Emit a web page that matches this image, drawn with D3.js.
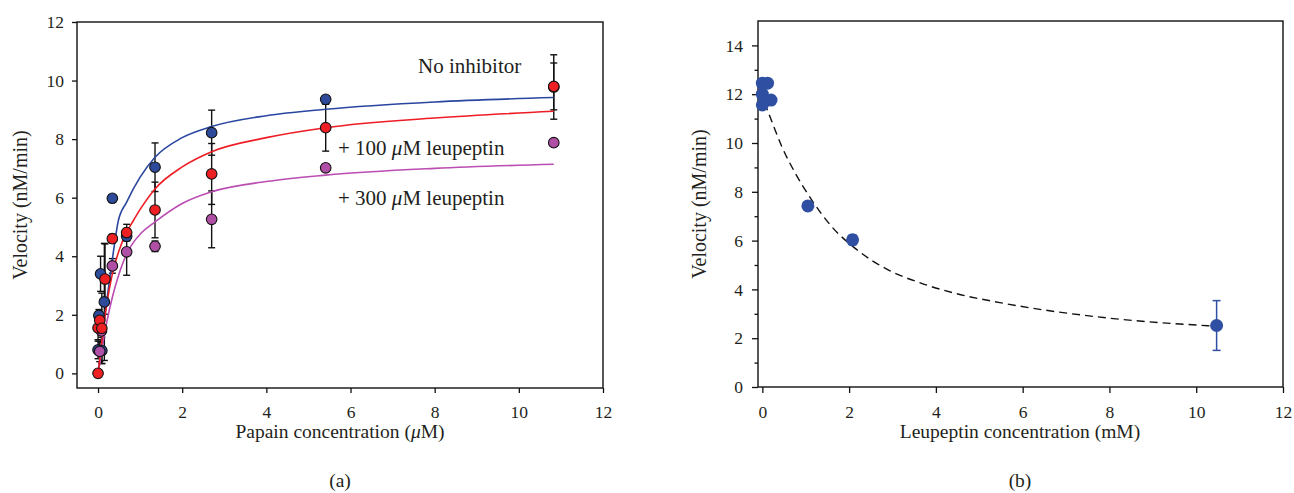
<!DOCTYPE html>
<html>
<head>
<meta charset="utf-8">
<script src="https://cdn.jsdelivr.net/npm/d3@7"></script>
<style>
  body { margin: 0; background: #fff; }
  svg text { font-family: "Liberation Serif", "DejaVu Serif", serif; fill: #231f20; }
</style>
</head>
<body>
<svg id="chart" width="1294" height="493"></svg>
<script>
// ---- Panel (a): velocity vs papain concentration, [x (µM), velocity, error] ----
const noInhibitor = [
  [0.00, 0.80, 0.30], [0.09, 0.78, 0.45], [0.02, 1.98, 0.20], [0.06, 3.40, 0.60],
  [0.15, 2.44, 2.00], [0.34, 5.98, 0.00], [0.68, 4.68, 0.15], [1.354, 7.04, 0.83],
  [2.70, 8.22, 0.77], [5.41, 9.36, 0.00], [10.83, 9.78, 1.10]
];
const leupeptin100 = [
  [0.00, 0.00, 0.00], [0.00, 1.55, 0.40], [0.04, 1.81, 0.30], [0.09, 1.54, 1.20],
  [0.166, 3.22, 1.20], [0.34, 4.60, 0.15], [0.68, 4.81, 0.28], [1.354, 5.58, 0.95],
  [2.70, 6.81, 1.04], [5.41, 8.39, 0.80], [10.83, 9.80, 0.80]
];
const leupeptin300 = [
  [0.04, 0.75, 0.35], [0.08, 1.45, 0.40], [0.34, 3.67, 0.25], [0.68, 4.15, 0.80],
  [1.354, 4.34, 0.18], [2.70, 5.26, 0.97], [5.41, 7.02, 0.00], [10.83, 7.88, 0.00]
];
// Fitted saturation curves, [x, velocity]
const noInhibitorFit = [
  [0, 0], [0.05, 0.5], [0.1, 1.2], [0.2, 2.4], [0.285, 3.3], [0.4, 4.5], [0.48, 5.2],
  [0.68, 5.85], [1.0, 6.7], [1.354, 7.38], [2.0, 8.05], [2.7, 8.43], [4.0, 8.8],
  [5.41, 9.02], [8.0, 9.27], [10.83, 9.42]
];
const leupeptin100Fit = [
  [0, 0], [0.05, 0.6], [0.1, 1.2], [0.2, 2.3], [0.34, 3.4], [0.5, 4.2], [0.68, 4.82],
  [0.8, 5.12], [1.0, 5.6], [1.354, 6.3], [2.0, 7.05], [2.7, 7.57], [4.0, 8.05],
  [5.41, 8.39], [8.0, 8.72], [10.83, 8.95]
];
const leupeptin300Fit = [
  [0, 0], [0.05, 0.4], [0.1, 0.9], [0.2, 1.7], [0.34, 2.6], [0.5, 3.4], [0.68, 4.08],
  [0.88, 4.55], [1.0, 4.75], [1.354, 5.17], [2.0, 5.8], [2.7, 6.2], [4.0, 6.55],
  [5.41, 6.77], [8.0, 7.0], [10.83, 7.14]
];
const ticksA = [0, 2, 4, 6, 8, 10, 12];

// ---- Panel (b): velocity vs leupeptin concentration ----
const leupeptinConc = [0, 0.12, 0, 0.2, 0, 1.05, 2.08, 10.47];
const velocityB = [12.45, 12.45, 12.0, 11.76, 11.56, 7.42, 6.03, 2.52];
const errorB = [0, 0, 0, 0, 0, 0, 0.2, 1.02];
const inhibitionFit = [
  [0.05, 11.65], [0.145, 11.22], [0.45, 9.85], [0.76, 8.76], [1.14, 7.66], [1.6, 6.57],
  [2.14, 5.68], [2.9, 4.8], [3.67, 4.25], [4.44, 3.84], [5.47, 3.46], [8.0, 2.82], [10.37, 2.5]
];
const ticksBX = [0, 2, 4, 6, 8, 10, 12];
const ticksBY = [0, 2, 4, 6, 8, 10, 12, 14];
const minorTicksBY = [1, 3, 5, 7, 9, 11, 13];

const svg = d3.select("#chart");
const ink = "#111";

function frame(g, x, y) {
  const [x0, x1] = x.range(), [y0, y1] = y.range();
  g.append("rect").attr("x", x0).attr("y", y1).attr("width", x1 - x0).attr("height", y0 - y1)
    .attr("fill", "none").attr("stroke", ink).attr("stroke-width", 1.4);
}
function styleAxis(sel, size) {
  sel.select(".domain").remove();
  sel.selectAll(".tick line").attr("stroke", ink).attr("stroke-width", 1.3);
  sel.selectAll(".tick text").attr("font-size", size).attr("fill", "#231f20")
    .attr("font-family", '"Liberation Serif", serif');
}

// ================= Panel (a) =================
const xa = d3.scaleLinear().domain([-0.5, 12]).range([77, 603]);
const ya = d3.scaleLinear().domain([-0.5, 12]).range([388, 22]);
const ga = svg.append("g");

ga.append("g").attr("transform", "translate(0,388)")
  .call(d3.axisBottom(xa).tickValues(ticksA).tickSize(5).tickPadding(13).tickSizeOuter(0))
  .call(s => styleAxis(s, 17.5));
ga.append("g").attr("transform", "translate(77,0)")
  .call(d3.axisLeft(ya).tickValues(ticksA).tickSize(5).tickPadding(8).tickSizeOuter(0))
  .call(s => styleAxis(s, 17.5));
frame(ga, xa, ya);

const seriesA = [
  { data: noInhibitor, fit: noInhibitorFit, fill: "#2e4b9b", line: "#2a46a0" },
  { data: leupeptin300, fit: leupeptin300Fit, fill: "#b04fa6", line: "#bb4db3" },
  { data: leupeptin100, fit: leupeptin100Fit, fill: "#ee2024", line: "#ee1c25" }
];

// error bars
seriesA.forEach(s => {
  const eb = ga.append("g").attr("stroke", ink).attr("stroke-width", 1.4);
  s.data.filter(d => d[2] > 0).forEach(d => {
    const cx = xa(d[0]), t = ya(d[1] + d[2]), b = ya(d[1] - d[2]);
    eb.append("line").attr("x1", cx).attr("x2", cx).attr("y1", t).attr("y2", b);
    eb.append("line").attr("x1", cx - 3.5).attr("x2", cx + 3.5).attr("y1", t).attr("y2", t);
    eb.append("line").attr("x1", cx - 3.5).attr("x2", cx + 3.5).attr("y1", b).attr("y2", b);
  });
});

// fitted curves
const lineA = d3.line().x(d => xa(d[0])).y(d => ya(d[1])).curve(d3.curveMonotoneX);
seriesA.forEach(s => {
  ga.append("path").datum(s.fit).attr("d", lineA)
    .attr("fill", "none").attr("stroke", s.line).attr("stroke-width", 1.6);
});

// points
seriesA.forEach(s => {
  ga.append("g").selectAll("circle").data(s.data).join("circle")
    .attr("cx", d => xa(d[0])).attr("cy", d => ya(d[1])).attr("r", 5.3)
    .attr("fill", s.fill).attr("stroke", ink).attr("stroke-width", 1.1);
});

// series labels
function muLabel(g, x, y, before, after, size) {
  const t = g.append("text").attr("x", x).attr("y", y).attr("font-size", size);
  t.append("tspan").text(before);
  t.append("tspan").attr("font-style", "italic").text("\u03bc");
  t.append("tspan").text(after);
  return t;
}
ga.append("text").attr("x", 418).attr("y", 73).attr("font-size", 21).text("No inhibitor");
muLabel(ga, 338, 155, "+ 100 ", "M leupeptin", 21);
muLabel(ga, 338, 205, "+ 300 ", "M leupeptin", 21);

muLabel(ga, 340, 438, "Papain concentration (", "M)", 19.5).attr("text-anchor", "middle");
ga.append("text").attr("x", 340).attr("y", 487).attr("text-anchor", "middle")
  .attr("font-size", 19.5).text("(a)");
ga.append("text").attr("transform", "translate(27,205) rotate(-90)")
  .attr("text-anchor", "middle").attr("font-size", 20).text("Velocity (nM/min)");

// ================= Panel (b) =================
const xb = d3.scaleLinear().domain([-0.1, 12]).range([758, 1283]);
const yb = d3.scaleLinear().domain([0, 15]).range([387, 21]);
const gb = svg.append("g");

gb.append("g").attr("transform", "translate(0,387)")
  .call(d3.axisBottom(xb).tickValues(ticksBX).tickSize(6).tickPadding(13).tickSizeOuter(0))
  .call(s => styleAxis(s, 17.5));
gb.append("g").attr("transform", "translate(758,0)")
  .call(d3.axisLeft(yb).tickValues(ticksBY).tickSize(6).tickPadding(9).tickSizeOuter(0))
  .call(s => styleAxis(s, 17.5));
gb.append("g").attr("transform", "translate(758,0)")
  .call(d3.axisLeft(yb).tickValues(minorTicksBY).tickSize(3.5).tickFormat(() => "").tickSizeOuter(0))
  .call(s => styleAxis(s, 17.5));
frame(gb, xb, yb);

const lineB = d3.line().x(d => xb(d[0])).y(d => yb(d[1])).curve(d3.curveMonotoneX);
gb.append("path").datum(inhibitionFit).attr("d", lineB)
  .attr("fill", "none").attr("stroke", ink).attr("stroke-width", 1.4)
  .attr("stroke-dasharray", "8,5");

const pointsB = leupeptinConc.map((c, i) => ({ x: c, y: velocityB[i], e: errorB[i] }));
const blueB = "#2f4fa2";
const ebB = gb.append("g").attr("stroke", blueB).attr("stroke-width", 1.5);
pointsB.filter(d => d.e > 0).forEach(d => {
  const cx = xb(d.x), t = yb(d.y + d.e), b = yb(d.y - d.e);
  ebB.append("line").attr("x1", cx).attr("x2", cx).attr("y1", t).attr("y2", b);
  ebB.append("line").attr("x1", cx - 4).attr("x2", cx + 4).attr("y1", t).attr("y2", t);
  ebB.append("line").attr("x1", cx - 4).attr("x2", cx + 4).attr("y1", b).attr("y2", b);
});
gb.append("g").selectAll("circle").data(pointsB).join("circle")
  .attr("cx", d => xb(d.x)).attr("cy", d => yb(d.y)).attr("r", 6.5)
  .attr("fill", blueB);

gb.append("text").attr("x", 1020).attr("y", 438).attr("text-anchor", "middle")
  .attr("font-size", 19.5).text("Leupeptin concentration (mM)");
gb.append("text").attr("x", 1020).attr("y", 487).attr("text-anchor", "middle")
  .attr("font-size", 19.5).text("(b)");
gb.append("text").attr("transform", "translate(706,204) rotate(-90)")
  .attr("text-anchor", "middle").attr("font-size", 20).text("Velocity (nM/min)");
</script>
</body>
</html>
